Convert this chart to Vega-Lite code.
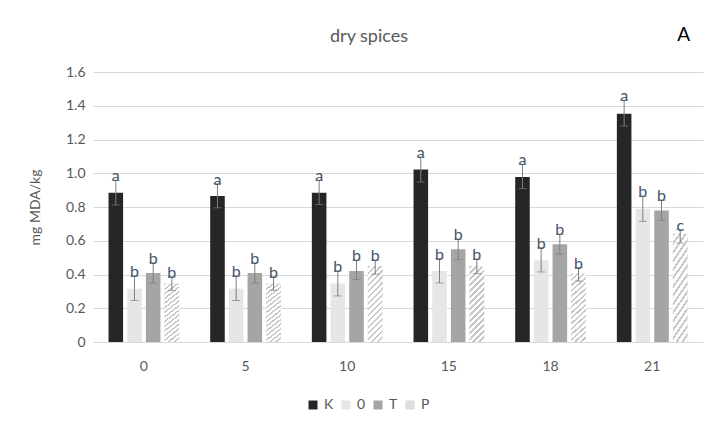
{
  "$schema": "https://vega.github.io/schema/vega-lite/v6.json",
  "width": 610,
  "height": 270,
  "autosize": {"type": "none"},
  "padding": {"left": 93, "top": 72, "right": 18, "bottom": 85},
  "background": "white",
  "title": {"text": "dry spices", "anchor": "middle", "frame": "group", "baseline": "bottom", "dx": -29, "offset": -38, "fontSize": 18, "font": "Lato", "fontWeight": "normal", "color": "#595959"},
  "config": {
    "view": {"stroke": null},
    "font": "Lato",
    "axis": {"labelFont": "Lato", "titleFont": "Lato"},
    "axisY": {"domain": false, "ticks": false, "gridColor": "#d9d9d9", "labelColor": "#595959", "labelFontSize": 14, "labelPadding": 8, "titleColor": "#595959", "titleFontSize": 14, "titleFontWeight": "normal", "titlePadding": 23, "labelOverlap": false, "labelFlush": false}
  },
  "data": {"values": [
    {"day": "0", "group": "K", "value": 0.885, "lo": 0.812, "hi": 0.958, "letter": "a"},
    {"day": "0", "group": "0", "value": 0.316, "lo": 0.246, "hi": 0.39, "letter": "b"},
    {"day": "0", "group": "T", "value": 0.409, "lo": 0.349, "hi": 0.469, "letter": "b"},
    {"day": "0", "group": "P", "value": 0.346, "lo": 0.306, "hi": 0.386, "letter": "b"},
    {"day": "5", "group": "K", "value": 0.865, "lo": 0.795, "hi": 0.938, "letter": "a"},
    {"day": "5", "group": "0", "value": 0.316, "lo": 0.246, "hi": 0.39, "letter": "b"},
    {"day": "5", "group": "T", "value": 0.409, "lo": 0.349, "hi": 0.469, "letter": "b"},
    {"day": "5", "group": "P", "value": 0.346, "lo": 0.306, "hi": 0.386, "letter": "b"},
    {"day": "10", "group": "K", "value": 0.885, "lo": 0.815, "hi": 0.958, "letter": "a"},
    {"day": "10", "group": "0", "value": 0.346, "lo": 0.273, "hi": 0.421, "letter": "b"},
    {"day": "10", "group": "T", "value": 0.421, "lo": 0.37, "hi": 0.484, "letter": "b"},
    {"day": "10", "group": "P", "value": 0.449, "lo": 0.401, "hi": 0.484, "letter": "b"},
    {"day": "15", "group": "K", "value": 1.022, "lo": 0.948, "hi": 1.096, "letter": "a"},
    {"day": "15", "group": "0", "value": 0.421, "lo": 0.35, "hi": 0.494, "letter": "b"},
    {"day": "15", "group": "T", "value": 0.549, "lo": 0.488, "hi": 0.609, "letter": "b"},
    {"day": "15", "group": "P", "value": 0.449, "lo": 0.405, "hi": 0.49, "letter": "b"},
    {"day": "18", "group": "K", "value": 0.978, "lo": 0.909, "hi": 1.053, "letter": "a"},
    {"day": "18", "group": "0", "value": 0.484, "lo": 0.415, "hi": 0.559, "letter": "b"},
    {"day": "18", "group": "T", "value": 0.579, "lo": 0.52, "hi": 0.638, "letter": "b"},
    {"day": "18", "group": "P", "value": 0.405, "lo": 0.361, "hi": 0.441, "letter": "b"},
    {"day": "21", "group": "K", "value": 1.353, "lo": 1.28, "hi": 1.432, "letter": "a"},
    {"day": "21", "group": "0", "value": 0.79, "lo": 0.715, "hi": 0.863, "letter": "b"},
    {"day": "21", "group": "T", "value": 0.78, "lo": 0.721, "hi": 0.84, "letter": "b"},
    {"day": "21", "group": "P", "value": 0.642, "lo": 0.587, "hi": 0.666, "letter": "c"}
  ]},
  "encoding": {
    "x": {"field": "day", "type": "nominal", "sort": ["0", "5", "10", "15", "18", "21"],
      "scale": {"paddingInner": 0.265, "paddingOuter": 0.1325},
      "axis": {"title": null, "labelAngle": 0, "ticks": false, "domainColor": "#d9d9d9", "labelColor": "#595959", "labelFontSize": 14, "labelPadding": 17}},
    "xOffset": {"field": "group", "type": "nominal", "sort": ["K", "0", "T", "P"], "scale": {"paddingInner": 0.22, "paddingOuter": 0.11}}
  },
  "layer": [
    {
      "mark": {"type": "bar"},
      "encoding": {
        "y": {"field": "value", "type": "quantitative",
          "scale": {"domain": [0, 1.6], "nice": false},
          "axis": {"title": "mg MDA/kg", "values": [0, 0.2, 0.4, 0.6, 0.8, 1.0, 1.2, 1.4, 1.6], "labelExpr": "datum.value == 0 ? '0' : format(datum.value, '.1f')"}},
        "color": {"field": "group", "type": "nominal",
          "scale": {"domain": ["K", "0", "T", "P"], "range": ["#262626", "#e7e6e6", "#a5a5a5", "#dedede"]},
          "legend": {"title": null, "orient": "none", "direction": "horizontal", "legendX": 213, "legendY": 326, "symbolType": "square", "symbolSize": 81, "symbolStrokeWidth": 0, "labelFontSize": 14, "labelColor": "#595959", "labelOffset": 4, "columnPadding": 5}}
      }
    },
    {
      "transform": [{"filter": "datum.group == 'P'"}],
      "mark": {"type": "bar", "fill": {"gradient": "linear", "x1": 0, "y1": 0, "x2": 1, "y2": 5.1, "stops": [
            {"offset": 0, "color": "#c8c8c8"}, {"offset": 0.006, "color": "#c8c8c8"}, {"offset": 0.006, "color": "#ffffff"}, {"offset": 0.015, "color": "#ffffff"},
            {"offset": 0.015, "color": "#c8c8c8"}, {"offset": 0.021, "color": "#c8c8c8"}, {"offset": 0.021, "color": "#ffffff"}, {"offset": 0.03, "color": "#ffffff"},
            {"offset": 0.03, "color": "#c8c8c8"}, {"offset": 0.036, "color": "#c8c8c8"}, {"offset": 0.036, "color": "#ffffff"}, {"offset": 0.045, "color": "#ffffff"},
            {"offset": 0.045, "color": "#c8c8c8"}, {"offset": 0.051, "color": "#c8c8c8"}, {"offset": 0.051, "color": "#ffffff"}, {"offset": 0.06, "color": "#ffffff"},
            {"offset": 0.06, "color": "#c8c8c8"}, {"offset": 0.066, "color": "#c8c8c8"}, {"offset": 0.066, "color": "#ffffff"}, {"offset": 0.075, "color": "#ffffff"},
            {"offset": 0.075, "color": "#c8c8c8"}, {"offset": 0.081, "color": "#c8c8c8"}, {"offset": 0.081, "color": "#ffffff"}, {"offset": 0.09, "color": "#ffffff"},
            {"offset": 0.09, "color": "#c8c8c8"}, {"offset": 0.096, "color": "#c8c8c8"}, {"offset": 0.096, "color": "#ffffff"}, {"offset": 0.105, "color": "#ffffff"},
            {"offset": 0.105, "color": "#c8c8c8"}, {"offset": 0.111, "color": "#c8c8c8"}, {"offset": 0.111, "color": "#ffffff"}, {"offset": 0.12, "color": "#ffffff"},
            {"offset": 0.12, "color": "#c8c8c8"}, {"offset": 0.126, "color": "#c8c8c8"}, {"offset": 0.126, "color": "#ffffff"}, {"offset": 0.135, "color": "#ffffff"},
            {"offset": 0.135, "color": "#c8c8c8"}, {"offset": 0.141, "color": "#c8c8c8"}, {"offset": 0.141, "color": "#ffffff"}, {"offset": 0.15, "color": "#ffffff"},
            {"offset": 0.15, "color": "#c8c8c8"}, {"offset": 0.156, "color": "#c8c8c8"}, {"offset": 0.156, "color": "#ffffff"}, {"offset": 0.165, "color": "#ffffff"},
            {"offset": 0.165, "color": "#c8c8c8"}, {"offset": 0.171, "color": "#c8c8c8"}, {"offset": 0.171, "color": "#ffffff"}, {"offset": 0.18, "color": "#ffffff"},
            {"offset": 0.18, "color": "#c8c8c8"}, {"offset": 0.186, "color": "#c8c8c8"}, {"offset": 0.186, "color": "#ffffff"}, {"offset": 0.195, "color": "#ffffff"},
            {"offset": 0.195, "color": "#c8c8c8"}, {"offset": 0.201, "color": "#c8c8c8"}, {"offset": 0.201, "color": "#ffffff"}, {"offset": 0.21, "color": "#ffffff"},
            {"offset": 0.21, "color": "#c8c8c8"}, {"offset": 0.216, "color": "#c8c8c8"}, {"offset": 0.216, "color": "#ffffff"}, {"offset": 0.225, "color": "#ffffff"},
            {"offset": 0.225, "color": "#c8c8c8"}, {"offset": 0.231, "color": "#c8c8c8"}, {"offset": 0.231, "color": "#ffffff"}, {"offset": 0.24, "color": "#ffffff"}
          ]}},
      "encoding": {"y": {"field": "value", "type": "quantitative", "axis": {"title": "mg MDA/kg", "values": [0, 0.2, 0.4, 0.6, 0.8, 1.0, 1.2, 1.4, 1.6], "labelExpr": "datum.value == 0 ? '0' : format(datum.value, '.1f')"}}}
    },
    {
      "mark": {"type": "rule", "color": "#7f7f7f", "strokeWidth": 1},
      "encoding": {"y": {"field": "lo", "type": "quantitative", "axis": {"title": "mg MDA/kg", "values": [0, 0.2, 0.4, 0.6, 0.8, 1.0, 1.2, 1.4, 1.6], "labelExpr": "datum.value == 0 ? '0' : format(datum.value, '.1f')"}}, "y2": {"field": "hi"}}
    },
    {
      "mark": {"type": "tick", "color": "#7f7f7f", "size": 8, "thickness": 1},
      "encoding": {"y": {"field": "lo", "type": "quantitative", "axis": {"title": "mg MDA/kg", "values": [0, 0.2, 0.4, 0.6, 0.8, 1.0, 1.2, 1.4, 1.6], "labelExpr": "datum.value == 0 ? '0' : format(datum.value, '.1f')"}}}
    },
    {
      "mark": {"type": "tick", "color": "#7f7f7f", "size": 8, "thickness": 1},
      "encoding": {"y": {"field": "hi", "type": "quantitative", "axis": {"title": "mg MDA/kg", "values": [0, 0.2, 0.4, 0.6, 0.8, 1.0, 1.2, 1.4, 1.6], "labelExpr": "datum.value == 0 ? '0' : format(datum.value, '.1f')"}}}
    },
    {
      "mark": {"type": "text", "baseline": "alphabetic", "dy": 1, "fontSize": 16, "color": "#44546a"},
      "encoding": {"y": {"field": "hi", "type": "quantitative", "axis": {"title": "mg MDA/kg", "values": [0, 0.2, 0.4, 0.6, 0.8, 1.0, 1.2, 1.4, 1.6], "labelExpr": "datum.value == 0 ? '0' : format(datum.value, '.1f')"}}, "text": {"field": "letter"}}
    },
    {
      "data": {"values": [{"label": "A"}]},
      "mark": {"type": "text", "fontSize": 19, "color": "#000000", "dx": 69, "baseline": "middle", "clip": false},
      "encoding": {"x": {"datum": "21"}, "xOffset": {"value": 0}, "y": {"datum": 1.82, "type": "quantitative", "axis": {"title": "mg MDA/kg", "values": [0, 0.2, 0.4, 0.6, 0.8, 1.0, 1.2, 1.4, 1.6], "labelExpr": "datum.value == 0 ? '0' : format(datum.value, '.1f')"}}, "text": {"field": "label"}}
    }
  ]
}
